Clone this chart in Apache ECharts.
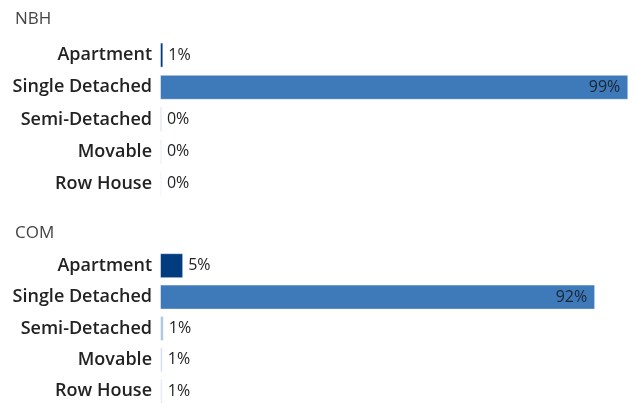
<!DOCTYPE html>
<html>
<head>
<meta charset="utf-8">
<script src="https://cdn.jsdelivr.net/npm/echarts@6/dist/echarts.min.js"></script>
<style>
html,body{margin:0;padding:0;background:#fff;}
#chart{width:637px;height:407px;}
</style>
</head>
<body>
<div id="chart"></div>
<script>
const categories = ['Apartment', 'Single Detached', 'Semi-Detached', 'Movable', 'Row House'];
const groupNames = ['NBH', 'COM'];
const nbhValues = [0.7, 99, 0.4, 0.4, 0.4];
const comValues = [4.9, 92, 0.8, 0.6, 0.6];

const palette = ['#023b7e', '#3e79b9', '#a9c4e4', '#cfdef1', '#e2ebf6'];
const font = '"Open Sans", "Noto Sans", sans-serif';

const chart = echarts.init(document.getElementById('chart'), null, {renderer: 'canvas'});

function makeData(vals) {
  return vals.map((v, i) => ({
    value: v,
    itemStyle: {color: palette[i], borderColor: 'rgba(255,255,255,0.45)', borderWidth: 1},
    label: i === 1 ? {position: 'insideRight', distance: 8, color: '#1b2533'} : {position: 'right', color: '#222'}
  }));
}

const grids = [
  {left: 160, width: 473, top: 39, height: 161},
  {left: 160, width: 473, top: 250, height: 161}
];

const option = {
  animation: false,
  backgroundColor: '#fff',
  title: groupNames.map((n, i) => ({
    text: n, left: 10, top: i === 0 ? 6 : 220,
    textStyle: {fontFamily: font, fontSize: 17, fontWeight: 'normal', color: '#444'}
  })),
  grid: grids,
  xAxis: grids.map((g, i) => ({
    type: 'value', gridIndex: i, min: 0, max: 100, show: false
  })),
  yAxis: grids.map((g, i) => ({
    type: 'category', gridIndex: i, data: categories, inverse: true,
    axisLine: {show: false}, axisTick: {show: false}, splitLine: {show: false},
    axisLabel: {margin: 8, fontFamily: font, fontSize: 18, fontWeight: 600, color: '#222'}
  })),
  series: [nbhValues, comValues].map((vals, i) => ({
    type: 'bar', xAxisIndex: i, yAxisIndex: i, barWidth: 25,
    data: makeData(vals),
    label: {
      show: true, fontFamily: font, fontSize: 16, distance: 5,
      formatter: p => Math.round(p.value) + '%'
    }
  }))
};
chart.setOption(option);
</script>
</body>
</html>
